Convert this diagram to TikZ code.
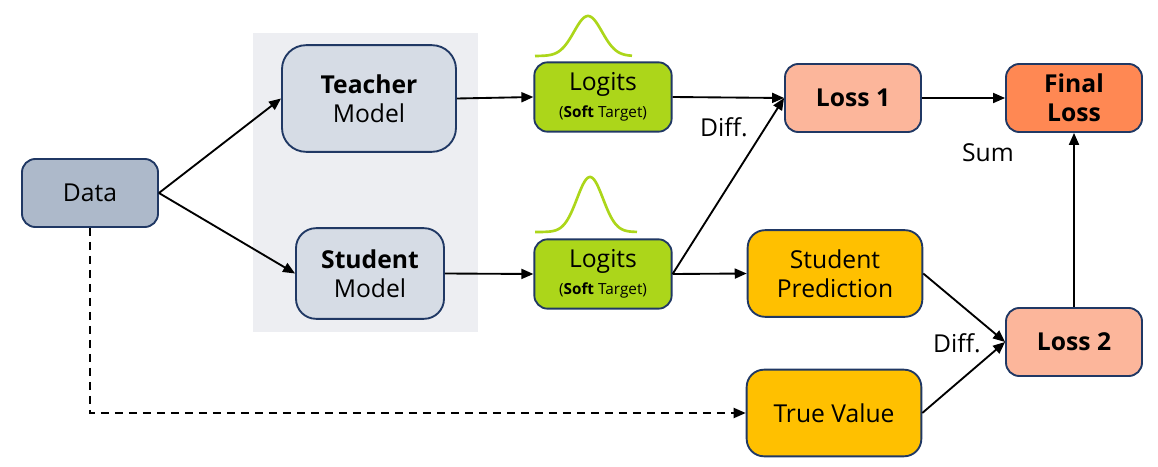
\documentclass[tikz,border=0pt]{standalone}
\usepackage{fontspec}
\setmainfont{Open Sans}
\usetikzlibrary{arrows.meta,positioning}

\definecolor{navy}{HTML}{203864}
\definecolor{datafill}{HTML}{ADB9CA}
\definecolor{modelfill}{HTML}{D6DCE5}
\definecolor{panelfill}{HTML}{EDEEF2}
\definecolor{lime}{HTML}{ACD61A}
\definecolor{lossfill}{HTML}{FCB69B}
\definecolor{finalfill}{HTML}{FF8853}
\definecolor{gold}{HTML}{FFC000}

\begin{document}
\begin{tikzpicture}[x=0.75pt, y=-0.75pt,
  every node/.style={font=\fontsize{18.5}{22}\selectfont},
  box/.style={draw=navy, line width=1.4pt, rounded corners=10pt, align=center, inner sep=0pt},
  arr/.style={-{Triangle[length=9pt,width=7.5pt]}, line width=1.4pt},
  bell/.style={draw=lime, line width=2pt}]
  \useasboundingbox (0,0) rectangle (1158,467);

  % panel behind the two models
  \fill[panelfill] (253,33) rectangle (478,332);

  % input
  \node[box, fill=datafill, minimum width=102pt, minimum height=51pt] (data) at (90,193) {Data};

  % models
  \node[box, fill=modelfill, minimum width=130.5pt, minimum height=80pt, rounded corners=18pt] (teacher) at (369,98.5) {\textbf{Teacher}\\Model};
  \node[box, fill=modelfill, minimum width=111pt, minimum height=68pt, rounded corners=15pt] (student) at (370,273.5) {\textbf{Student}\\Model};

  % logits
  \node[box, fill=lime, minimum width=103pt, minimum height=52pt] (logitsT) at (603,97) {Logits\\[-2pt]{\fontsize{11.5}{12}\selectfont(\textbf{Soft} Target)}};
  \node[box, fill=lime, minimum width=103pt, minimum height=52pt] (logitsS) at (603,274) {Logits\\[-2pt]{\fontsize{11.5}{12}\selectfont(\textbf{Soft} Target)}};

  % soft distributions
  \draw[bell] plot[domain=535:632, samples=80, smooth] (\x, {56-40*exp(-((\x-588)/14)*((\x-588)/14)/2)});
  \draw[bell] plot[domain=535:637, samples=80, smooth] (\x, {232-55*exp(-((\x-590)/13)*((\x-590)/13)/2)});

  % predictions and losses
  \node[box, fill=gold, minimum width=131pt, minimum height=65pt, rounded corners=13pt] (pred) at (835,273.5) {Student\\Prediction};
  \node[box, fill=gold, minimum width=131pt, minimum height=65pt, rounded corners=13pt] (truth) at (834,413) {True Value};
  \node[box, fill=lossfill, minimum width=102pt, minimum height=51pt] (loss1) at (853,98) {\textbf{Loss 1}};
  \node[box, fill=lossfill, minimum width=102pt, minimum height=51pt] (loss2) at (1074,342) {\textbf{Loss 2}};
  \node[box, fill=finalfill, minimum width=102pt, minimum height=51pt] (final) at (1074,98) {\textbf{Final}\\\textbf{Loss}};

  % labels
  \node (diffA) at (724,127) {Diff.};
  \node (sum) at (988,153) {Sum};
  \node (diffB) at (957,343) {Diff.};

  % connectors
  \draw[arr] (data.east) -- (teacher.west);
  \draw[arr] (data.east) -- (student.west);
  \draw[arr] (teacher.east) -- (logitsT.west);
  \draw[arr] (student.east) -- (logitsS.west);
  \draw[arr] (logitsT.east) -- (loss1.west);
  \draw[arr] (logitsS.east) -- (loss1.west);
  \draw[arr] (logitsS.east) -- (pred.west);
  \draw[arr] (pred.east) -- (loss2.west);
  \draw[arr] (truth.east) -- (loss2.west);
  \draw[arr] (loss1.east) -- (final.west);
  \draw[arr] (loss2.north) -- (final.south);
  \draw[arr, dash pattern=on 6pt off 4.5pt] (data.south) |- (truth.west);
\end{tikzpicture}
\end{document}
